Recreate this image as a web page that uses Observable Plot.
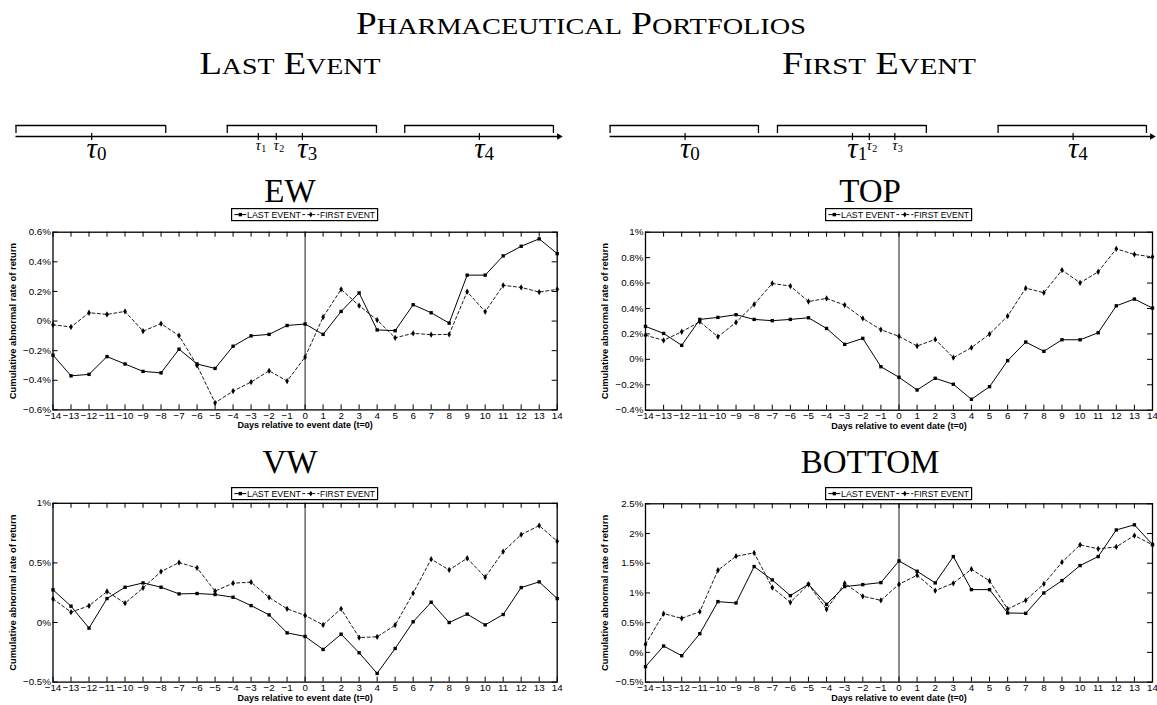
<!DOCTYPE html>
<html><head><meta charset="utf-8">
<script src="https://cdn.jsdelivr.net/npm/d3@7"></script>
<script src="https://cdn.jsdelivr.net/npm/@observablehq/plot@0.6"></script>
<style>
html,body{margin:0;padding:0;background:#fff;}
#root{position:relative;width:1157px;height:705px;overflow:hidden;background:#fff;}
#root > *{position:absolute;}
</style></head><body><div id="root"></div>
<script>
// ---------------- data ----------------
const days = [-14,-13,-12,-11,-10,-9,-8,-7,-6,-5,-4,-3,-2,-1,0,1,2,3,4,5,6,7,8,9,10,11,12,13,14];

const ewLast  = [-0.23,-0.37,-0.36,-0.24,-0.29,-0.34,-0.35,-0.19,-0.29,-0.32,-0.17,-0.10,-0.09,-0.03,-0.02,-0.09,0.065,0.19,-0.06,-0.065,0.11,0.056,-0.014,0.31,0.31,0.44,0.505,0.555,0.455];
const ewFirst = [-0.025,-0.04,0.056,0.045,0.065,-0.068,-0.018,-0.099,-0.30,-0.552,-0.473,-0.412,-0.336,-0.405,-0.243,0.027,0.214,0.104,0.007,-0.113,-0.083,-0.092,-0.09,0.198,0.063,0.241,0.227,0.196,0.214];

const topLast  = [0.259,0.204,0.11,0.314,0.33,0.351,0.314,0.304,0.314,0.327,0.243,0.118,0.165,-0.058,-0.141,-0.241,-0.149,-0.196,-0.314,-0.215,-0.01,0.136,0.063,0.154,0.154,0.209,0.421,0.474,0.403];
const topFirst = [0.19,0.149,0.217,0.296,0.178,0.291,0.432,0.597,0.576,0.455,0.479,0.427,0.322,0.233,0.181,0.105,0.157,0.013,0.092,0.199,0.34,0.56,0.524,0.702,0.602,0.688,0.869,0.825,0.806];

const vwLast  = [0.274,0.137,-0.047,0.201,0.296,0.332,0.296,0.24,0.243,0.235,0.212,0.142,0.064,-0.087,-0.117,-0.226,-0.098,-0.254,-0.427,-0.218,0.006,0.17,0,0.07,-0.02,0.067,0.293,0.341,0.201];
const vwFirst = [0.198,0.087,0.14,0.26,0.162,0.29,0.427,0.503,0.458,0.263,0.33,0.338,0.21,0.115,0.059,-0.02,0.115,-0.126,-0.12,-0.022,0.246,0.531,0.441,0.539,0.38,0.595,0.737,0.813,0.682];

const botLast  = [-0.24,0.107,-0.056,0.315,0.854,0.831,1.444,1.219,0.955,1.146,0.809,1.107,1.14,1.174,1.539,1.365,1.169,1.612,1.056,1.056,0.663,0.657,1.0,1.208,1.461,1.612,2.06,2.146,1.815];
const botFirst = [0.135,0.652,0.573,0.685,1.382,1.618,1.674,1.09,0.843,1.146,0.725,1.163,0.944,0.876,1.146,1.298,1.039,1.163,1.399,1.202,0.73,0.876,1.152,1.517,1.809,1.742,1.775,1.966,1.809];

const ewTicks  = [-0.6,-0.4,-0.2,0,0.2,0.4,0.6];
const topTicks = [-0.4,-0.2,0,0.2,0.4,0.6,0.8,1];
const vwTicks  = [-0.5,0,0.5,1];
const botTicks = [-0.5,0,0.5,1,1.5,2,2.5];

const xTitle = "Days relative to event date (t=0)";
const yTitle = "Cumulative abnormal rate of return";
const legendLabels = ["LAST EVENT", "FIRST EVENT"];

// timeline schematic (relative time units 0..100)
const tauIds = [0,1,2,3,4];
const lastBrackets  = [[0,27.5],[38.8,66.2],[71.4,98.7]];
const lastTauPos    = [13.9,44.5,47.8,52.6,85.1];
const lastTauBig    = [true,false,false,true,true];
const firstBrackets = [[0,27.3],[30.8,58.2],[71.4,98.7]];
const firstTauPos   = [13.8,44.6,47.7,52.4,85.2];
const firstTauBig   = [true,true,false,false,true];

// ---------------- helpers ----------------
const root = document.getElementById("root");
const SANS = "'Liberation Sans', Arial, Helvetica, sans-serif";
const SERIF = "'Liberation Serif', 'Times New Roman', serif";
const fmtX = d => d < 0 ? "\u2212" + (-d) : String(d);
const fmtY = d => (d < 0 ? "\u2212" : "") + Math.abs(d) + "%";

function place(el, left, top) {
  el.style.left = left + "px";
  el.style.top = top + "px";
  root.appendChild(el);
}

function panel(last, first, yDomain, yTicks, cfg) {
  const rows = days.map((d, i) => ({day: d, last: last[i], first: first[i]}));
  const [y0, y1] = yDomain;
  const chart = Plot.plot({
    width: cfg.width, height: cfg.height,
    marginLeft: cfg.mL, marginRight: cfg.mR, marginTop: cfg.mT, marginBottom: cfg.mB,
    x: {domain: [-14, 14]},
    y: {domain: yDomain},
    style: {fontFamily: SANS, fontSize: "10px", background: "transparent", color: "black", overflow: "visible"},
    marks: [
      Plot.ruleX([0], {stroke: "#1a1a1a", strokeWidth: 1}),
      Plot.line(rows, {x: "day", y: "first", stroke: "black", strokeWidth: 0.9, strokeDasharray: "3,2.5"}),
      Plot.line(rows, {x: "day", y: "last", stroke: "black", strokeWidth: 1}),
      Plot.dot(rows, {x: "day", y: "first", symbol: "diamond", r: 1.9, fill: "black", stroke: null}),
      Plot.dot(rows, {x: "day", y: "last", symbol: "square", r: 1.9, fill: "black", stroke: null}),
      Plot.ruleX(days, {x: d => d, y1: y0, y2: y0, insetTop: 0, insetBottom: 5, strokeWidth: 1}),
      Plot.ruleX(days, {x: d => d, y1: y1, y2: y1, insetTop: 5, insetBottom: 0, strokeWidth: 1}),
      Plot.ruleY(yTicks, {y: d => d, x1: -14, x2: -14, insetLeft: 0, insetRight: -5, strokeWidth: 1}),
      Plot.ruleY(yTicks, {y: d => d, x1: 14, x2: 14, insetLeft: -5, insetRight: 0, strokeWidth: 1}),
      Plot.frame({stroke: "black", strokeWidth: 1.3}),
      Plot.axisX({ticks: days, tickSize: 0, tickPadding: 2, tickFormat: fmtX, label: null, fontSize: 9.8}),
      Plot.axisY({ticks: yTicks, tickSize: 0, tickPadding: 2, tickFormat: fmtY, label: null, fontSize: 9.8}),
      Plot.text([xTitle], {text: d => d, frameAnchor: "bottom", textAnchor: "middle", dy: cfg.xdy, fontWeight: "bold", fontSize: 9}),
      Plot.text([yTitle], {text: d => d, frameAnchor: "left", textAnchor: "middle", rotate: -90, dx: -40.5, fontWeight: "bold", fontSize: 9.4})
    ]
  });
  place(chart, cfg.left, cfg.top);
}

function legend(cx, top) {
  const ns = "http://www.w3.org/2000/svg";
  const svg = document.createElementNS(ns, "svg");
  svg.setAttribute("width", 148); svg.setAttribute("height", 14);
  svg.innerHTML = `
    <rect x="0.6" y="0.6" width="146" height="12" fill="white" stroke="black" stroke-width="1.2"/>
    <line x1="3.3" x2="15.3" y1="6.6" y2="6.6" stroke="black" stroke-width="1"/>
    <rect x="7.6" y="4.9" width="3.4" height="3.4" fill="black"/>
    <text x="16" y="9.7" font-family="${SANS}" font-size="8.6" textLength="54" lengthAdjust="spacingAndGlyphs">${legendLabels[0]}</text>
    <line x1="71.3" x2="88.3" y1="6.6" y2="6.6" stroke="black" stroke-width="0.9" stroke-dasharray="3,2"/>
    <path d="M79.8,3.8 L81.6,6.6 L79.8,9.4 L78,6.6 Z" fill="black"/>
    <text x="89" y="9.7" font-family="${SANS}" font-size="8.6" textLength="55" lengthAdjust="spacingAndGlyphs">${legendLabels[1]}</text>`;
  place(svg, cx - 73.5, top);
}

function timeline(brackets, tauPos, tauBig, cfg) {
  const taus = tauIds.map((k, i) => ({k, x: tauPos[i], big: tauBig[i]}));
  const big = taus.filter(d => d.big), small = taus.filter(d => !d.big);
  const chart = Plot.plot({
    width: cfg.width, height: 60,
    marginLeft: cfg.mL, marginRight: cfg.mR, marginTop: 0, marginBottom: 0,
    x: {domain: [0, 100], axis: null},
    y: {domain: [-3, 1], axis: null},
    style: {background: "transparent", overflow: "visible"},
    marks: [
      Plot.ruleY([0], {x1: 0, x2: 100, stroke: "black", strokeWidth: 1.3}),
      Plot.dot([100], {x: d => d, y: 0, symbol: "triangle", rotate: 90, r: 2.4, fill: "black", stroke: null, dx: -1.5}),
      Plot.ruleY(brackets, {y: 0.733, x1: d => d[0], x2: d => d[1], stroke: "black", strokeWidth: 1.3}),
      Plot.ruleX(brackets.flat(), {x: d => d, y1: 0.2, y2: 0.733, stroke: "black", strokeWidth: 1.3}),
      Plot.ruleX(taus, {x: "x", y1: -0.27, y2: 0.2, stroke: "black", strokeWidth: 1.2}),
      Plot.text(big, {x: "x", y: -0.8, text: () => "\u03c4", fontSize: 29, fontStyle: "italic", fontFamily: SERIF}),
      Plot.text(big, {x: "x", y: -1.19, text: d => String(d.k), fontSize: 19, fontFamily: SERIF, dx: 10}),
      Plot.text(small, {x: "x", y: -0.61, text: () => "\u03c4", fontSize: 15, fontStyle: "italic", fontFamily: SERIF}),
      Plot.text(small, {x: "x", y: -0.85, text: d => String(d.k), fontSize: 10, fontFamily: SERIF, dx: 5.5})
    ]
  });
  place(chart, cfg.left, cfg.top);
}

// ---------------- titles ----------------
(function titles() {
  const ns = "http://www.w3.org/2000/svg";
  const svg = document.createElementNS(ns, "svg");
  svg.setAttribute("width", 1157); svg.setAttribute("height", 705);
  svg.style.pointerEvents = "none";
  svg.innerHTML = `
    <g font-family="${SERIF}" fill="black" text-anchor="middle">
      <text x="581" y="34" font-size="31" textLength="450" lengthAdjust="spacingAndGlyphs">P<tspan font-size="23.6">HARMACEUTICAL</tspan> P<tspan font-size="23.6">ORTFOLIOS</tspan></text>
      <text x="290" y="74" font-size="31" textLength="181" lengthAdjust="spacingAndGlyphs">L<tspan font-size="23.6">AST</tspan> E<tspan font-size="23.6">VENT</tspan></text>
      <text x="879" y="74" font-size="31" textLength="194" lengthAdjust="spacingAndGlyphs">F<tspan font-size="23.6">IRST</tspan> E<tspan font-size="23.6">VENT</tspan></text>
      <text x="290" y="202" font-size="33">EW</text>
      <text x="870" y="202" font-size="33">TOP</text>
      <text x="290" y="473" font-size="33">VW</text>
      <text x="870" y="473" font-size="33">BOTTOM</text>
    </g>`;
  place(svg, 0, 0);
})();

// ---------------- timelines ----------------
timeline(lastBrackets, lastTauPos, lastTauBig, {left: 0, top: 121, width: 578, mL: 15.5, mR: 18});
timeline(firstBrackets, firstTauPos, firstTauBig, {left: 578, top: 121, width: 579, mL: 31.6, mR: 4});

// ---------------- panels ----------------
panel(ewLast, ewFirst, [-0.6, 0.6], ewTicks, {left: 0, top: 222, width: 578, height: 215, mL: 52.5, mR: 21.3, mT: 9.7, mB: 27.6, xdy: 18.5});
panel(topLast, topFirst, [-0.4, 1], topTicks, {left: 578, top: 222, width: 579, height: 215, mL: 67, mR: 5, mT: 9.7, mB: 27.3, xdy: 18.5});
panel(vwLast, vwFirst, [-0.5, 1], vwTicks, {left: 0, top: 494, width: 578, height: 211, mL: 52.5, mR: 21.3, mT: 8.8, mB: 23.4, xdy: 18.5});
panel(botLast, botFirst, [-0.5, 2.5], botTicks, {left: 578, top: 494, width: 579, height: 211, mL: 67, mR: 5, mT: 9.3, mB: 23.4, xdy: 18.5});

legend(304.6, 208.3);
legend(898.5, 208.3);
legend(304.6, 487.3);
legend(898.5, 487.3);
</script>
</body></html>
